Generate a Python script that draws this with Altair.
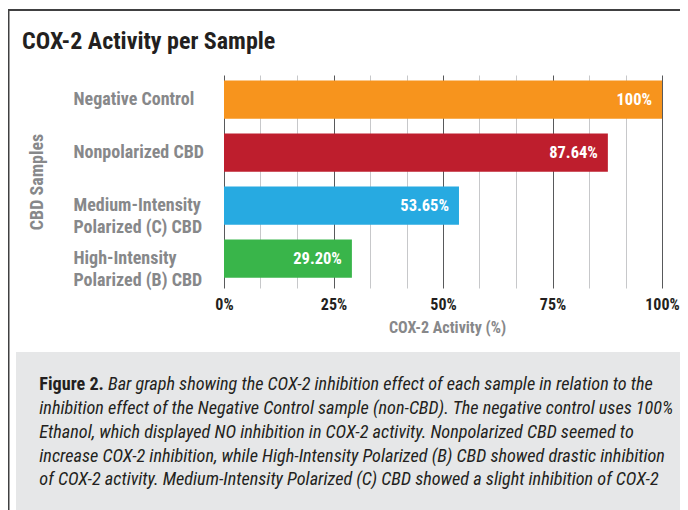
import altair as alt
import pandas as pd

# ---- data ----
samples = ["Negative Control", "Nonpolarized CBD",
           "Medium-Intensity|Polarized (C) CBD", "High-Intensity|Polarized (B) CBD"]
activity = [100, 87.64, 53.65, 29.20]
value_labels = ["100%", "87.64%", "53.65%", "29.20%"]
bar_colors = ["#F7941D", "#BE1E2D", "#27AAE1", "#39B54A"]
grid_values = [0, 8.33, 16.67, 25, 33.33, 41.67, 50, 58.33, 66.67, 75, 83.33, 91.67, 100]

title_text = "COX-2 Activity per Sample"
caption_bold = "Figure 2."
caption_first = "Bar graph showing the COX-2 inhibition effect of each sample in relation to the"
caption_rest = [
    "inhibition effect of the Negative Control sample (non-CBD). The negative control uses 100%",
    "Ethanol, which displayed NO inhibition in COX-2 activity. Nonpolarized CBD seemed to",
    "increase COX-2 inhibition, while High-Intensity Polarized (B) CBD showed drastic inhibition",
    "of COX-2 activity. Medium-Intensity Polarized (C) CBD showed a slight inhibition of COX-2",
]

FONT = "Roboto Condensed, DejaVu Sans Condensed, sans-serif"
DARK = "#231f20"
GRAY = "#87888a"

df = pd.DataFrame({"sample": samples, "activity": activity, "label": value_labels})

yenc = alt.Y(
    "sample:N",
    sort=samples,
    scale=alt.Scale(paddingInner=0.28, paddingOuter=0.15, align=0.35),
    axis=alt.Axis(
        title="CBD Samples", titleX=-186.5, titleY=106.5, titleAngle=-90,
        titleAlign="center", titleBaseline="middle", titleColor=GRAY,
        titleFontSize=18, titleFontWeight="bold", titleFont=FONT,
        labelExpr="split(datum.label, '|')", labelAlign="left", labelPadding=151,
        labelColor=GRAY, labelFontSize=18, labelFontWeight="bold", labelFont=FONT,
        labelLineHeight=22, labelLimit=300,
        ticks=False, tickSize=0, domain=False, grid=False,
    ),
)
xenc = alt.X(
    "activity:Q",
    scale=alt.Scale(domain=[0, 100], nice=False),
    axis=alt.Axis(
        values=grid_values, tickCount=30, grid=True,
        gridColor={"condition": {"test": "datum.value % 25 === 0", "value": "#58595b"}, "value": "#c7c8ca"},
        labelExpr="datum.value % 25 === 0 ? datum.value + '%' : ''",
        labelFlush=False, labelOverlap=False, labelPadding=8,
        labelFontSize=16, labelFontWeight="bold", labelColor=DARK, labelFont=FONT,
        ticks=False, tickSize=0, domain=False,
        title="COX-2 Activity (%)", titleX=223, titleY=39, titleBaseline="middle",
        titleAlign="center", titleColor=GRAY, titleFontSize=16, titleFontWeight="bold",
        titleFont=FONT,
    ),
)

base = alt.Chart(df)
bars = base.mark_bar().encode(
    x=xenc, y=yenc,
    color=alt.Color("sample:N", scale=alt.Scale(domain=samples, range=bar_colors), legend=None),
)
texts = base.mark_text(align="right", baseline="middle", dx=-10, color="white",
                       fontSize=16.5, fontWeight="bold", font=FONT).encode(
    x=xenc, y=yenc, text="label:N")

one = pd.DataFrame({"k": [0]})
deco = alt.Chart(one)
frame_left = deco.mark_rule(color="#404041", strokeWidth=2).encode(
    x=alt.value(-215.5), y=alt.value(-66), y2=alt.value(440))
frame_top = deco.mark_rule(color="#404041", strokeWidth=2).encode(
    x=alt.value(-216), x2=alt.value(470), y=alt.value(-65))
cap_box = deco.mark_rect(color="#e6e7e8").encode(
    x=alt.value(-208), x2=alt.value(470), y=alt.value(277), y2=alt.value(440))
title = deco.mark_text(align="left", baseline="middle", fontSize=24, fontWeight="bold",
                       font=FONT, color=DARK).encode(
    x=alt.value(-202), y=alt.value(-33), text=alt.value(title_text))
cap_b = deco.mark_text(align="left", baseline="alphabetic", fontSize=18.2, fontWeight="bold",
                       font=FONT, color=DARK).encode(
    x=alt.value(-184.7), y=alt.value(315), text=alt.value(caption_bold))
cap_1 = deco.mark_text(align="left", baseline="alphabetic", fontSize=18.2, fontStyle="italic",
                       font=FONT, color=DARK).encode(
    x=alt.value(-116), y=alt.value(315), text=alt.value(caption_first))
cap_r = deco.mark_text(align="left", baseline="alphabetic", fontSize=18.2, fontStyle="italic",
                       font=FONT, color=DARK, lineHeight=23.8).encode(
    x=alt.value(-184.7), y=alt.value(339), text=alt.value(caption_rest))

chart = alt.layer(
    cap_box, bars, texts, frame_left, frame_top, title, cap_b, cap_1, cap_r
).properties(
    width=438, height=213,
    autosize=alt.AutoSizeParams(type="none"),
    padding={"left": 216, "top": 67, "right": 18, "bottom": 222},
    background="white",
).configure_view(stroke=None)

chart.save("out.html", embed_options={"renderer": "svg", "actions": False})
